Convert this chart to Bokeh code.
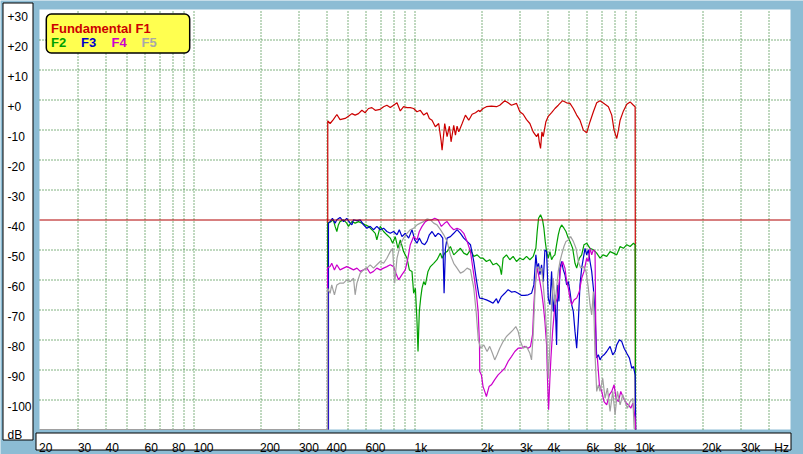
from math import log10, floor
from bokeh.plotting import figure
from bokeh.models import BoxAnnotation, Label
from bokeh.core.properties import value
from bokeh.embed import file_html
from bokeh.resources import INLINE

# ---------------- data (Hz, dB) ----------------
F1 = [(403, -110), (403, -7.1), (413, -8.0), (427, -6.7), (443, -5.0), (458, -6.7), (483, -6.3),
      (500, -5.6), (518, -4.7), (536, -5.2), (555, -4.7), (575, -3.6), (595, -4.4), (616, -3.0),
      (638, -2.7), (661, -3.6), (696, -3.3), (721, -2.4), (746, -1.9), (773, -2.7), (800, -1.9),
      (829, -1.1), (858, -3.8), (888, -2.4), (920, -2.7), (952, -2.7), (986, -3.0), (1021, -4.1),
      (1057, -3.6), (1095, -5.2), (1133, -4.4), (1161, -6.3), (1194, -6.9), (1236, -9.1),
      (1280, -8.0), (1312, -13.6), (1326, -16.9), (1363, -8.0), (1397, -12.4), (1431, -8.9),
      (1456, -14.1), (1497, -8.6), (1524, -11.9), (1550, -8.9), (1578, -10.8), (1634, -8.0),
      (1691, -5.2), (1751, -6.9), (1813, -4.9), (1878, -4.4), (1944, -3.6), (1963, -4.1),
      (2032, -3.0), (2104, -2.4), (2217, -2.2), (2336, -2.4), (2418, -1.9), (2548, -0.4),
      (2638, -1.1), (2732, -1.9), (2879, -1.3), (2981, -4.1), (3086, -4.9), (3196, -6.7),
      (3309, -8.0), (3426, -10.8), (3548, -12.4), (3610, -11.3), (3648, -14.1), (3699, -16.3),
      (3751, -10.8), (3804, -12.4), (3911, -7.4), (4008, -5.6), (4150, -4.4), (4297, -3.0),
      (4449, -1.9), (4655, -0.4), (4854, -1.1), (5026, -1.3), (5204, -3.0), (5389, -5.2),
      (5579, -6.9), (5777, -10.2), (5981, -11.1), (6193, -7.4), (6413, -4.1), (6640, -1.1),
      (6875, -0.4), (7243, -1.6), (7500, -2.4), (7766, -5.2), (7957, -10.2), (8182, -13.0),
      (8326, -10.2), (8472, -6.9), (8772, -3.8), (9083, -1.6), (9405, -0.8), (9738, -1.9),
      (9909, -2.4), (9940, -110)]

F2 = [(403, -110), (403, -41.2), (417, -40.7), (427, -40.1), (435, -42.3), (443, -44.0), (450, -41.8),
      (458, -40.7), (475, -40.1), (491, -41.2), (500, -42.3), (518, -40.7), (536, -41.2), (555, -40.7),
      (575, -41.2), (595, -41.8), (616, -42.3), (638, -43.4), (661, -44.6), (672, -46.8), (696, -42.3),
      (721, -44.0), (746, -45.1), (773, -46.2), (792, -47.9), (814, -45.7), (837, -49.6), (858, -46.8),
      (888, -50.7), (920, -52.9), (943, -56.8), (969, -57.3), (986, -64.6), (1004, -62.9),
      (1021, -74.0), (1032, -84.0), (1046, -70.7), (1061, -66.2), (1076, -62.9), (1095, -60.7),
      (1114, -61.8), (1145, -57.3), (1174, -55.7), (1215, -54.6), (1258, -53.4), (1303, -51.2),
      (1326, -52.9), (1363, -51.2), (1397, -50.7), (1446, -49.0), (1497, -51.8), (1550, -50.7),
      (1605, -49.6), (1662, -51.2), (1721, -51.8), (1782, -50.1), (1845, -52.3), (1911, -51.8),
      (1978, -52.9), (2032, -52.9), (2104, -54.0), (2178, -53.4), (2256, -55.1), (2336, -54.6),
      (2418, -55.7), (2461, -58.4), (2504, -52.9), (2593, -51.8), (2685, -53.4), (2780, -52.3),
      (2879, -54.0), (2981, -52.9), (3086, -53.4), (3196, -52.3), (3309, -53.4), (3426, -52.3),
      (3523, -49.6), (3572, -44.0), (3623, -39.6), (3699, -38.4), (3777, -40.1), (3830, -42.9),
      (3884, -47.3), (3939, -50.7), (4008, -52.9), (4078, -50.7), (4150, -53.4), (4223, -52.3),
      (4297, -51.8), (4372, -48.4), (4449, -45.1), (4527, -42.9), (4607, -41.8), (4721, -42.9),
      (4820, -44.0), (4939, -46.2), (5026, -47.3), (5168, -49.6), (5296, -54.6), (5389, -56.2),
      (5540, -52.9), (5677, -51.8), (5817, -48.4), (5981, -47.9), (6193, -49.6), (6413, -50.1),
      (6640, -51.2), (6875, -52.9), (7094, -51.8), (7370, -52.3), (7632, -50.7), (7902, -51.2),
      (8182, -51.8), (8472, -49.0), (8772, -49.6), (9083, -48.4), (9405, -49.0), (9738, -47.9),
      (9909, -48.4), (9950, -110)]

F3 = [(406, -110), (406, -41.2), (413, -40.7), (423, -39.6), (435, -41.2), (443, -40.1), (458, -39.3),
      (475, -40.7), (491, -39.6), (509, -41.2), (518, -41.8), (527, -40.1), (546, -40.4), (565, -40.1),
      (585, -41.8), (606, -42.9), (627, -42.3), (649, -43.4), (672, -42.3), (696, -43.4), (721, -42.9),
      (746, -44.0), (773, -44.6), (800, -44.0), (829, -45.1), (849, -43.4), (873, -45.7), (904, -44.6),
      (936, -46.2), (969, -43.4), (997, -46.8), (1021, -47.9), (1046, -46.2), (1076, -47.9),
      (1106, -48.4), (1133, -47.3), (1161, -45.1), (1194, -44.0), (1236, -45.7), (1271, -44.6),
      (1303, -45.1), (1335, -46.2), (1354, -64.6), (1373, -49.6), (1397, -46.2), (1446, -45.7),
      (1497, -44.6), (1550, -43.4), (1605, -44.6), (1662, -46.2), (1721, -47.3), (1782, -48.4),
      (1845, -54.0), (1891, -59.6), (1944, -65.1), (1963, -66.2), (2032, -66.4), (2104, -66.8),
      (2178, -67.3), (2256, -67.9), (2336, -66.4), (2377, -67.9), (2461, -65.7), (2548, -64.6),
      (2638, -63.4), (2732, -64.2), (2829, -64.0), (2929, -64.6), (3033, -65.3), (3141, -65.3),
      (3252, -65.1), (3367, -64.6), (3450, -61.8), (3523, -51.8), (3572, -56.2), (3623, -54.6),
      (3674, -58.4), (3738, -55.1), (3804, -60.7), (3871, -50.1), (3939, -50.7), (4008, -66.2),
      (4078, -68.4), (4150, -57.3), (4223, -70.7), (4297, -65.1), (4372, -81.8), (4418, -61.8),
      (4480, -67.3), (4527, -56.2), (4607, -54.0), (4688, -56.8), (4770, -58.4), (4854, -61.8),
      (4939, -60.7), (5026, -64.0), (5114, -68.4), (5204, -70.7), (5296, -77.3), (5389, -82.9),
      (5482, -74.0), (5579, -61.8), (5677, -56.2), (5777, -52.9), (5878, -49.6), (5981, -51.8),
      (6086, -50.1), (6193, -54.0), (6302, -57.3), (6413, -62.9), (6525, -70.7), (6640, -86.2),
      (6756, -85.1), (6875, -86.8), (6996, -85.7), (7168, -85.1), (7370, -84.0), (7632, -82.3),
      (7847, -85.1), (8041, -84.0), (8182, -81.8), (8413, -80.1), (8621, -80.7), (8834, -82.9),
      (9083, -84.6), (9340, -86.2), (9570, -89.6), (9738, -89.0), (9909, -91.8), (9960, -110)]

F4 = [(402, -110), (402, -56.2), (413, -55.7), (420, -54.6), (432, -56.8), (443, -55.1), (458, -56.8),
      (475, -56.2), (491, -55.7), (509, -56.2), (527, -56.8), (546, -56.2), (565, -57.3), (585, -56.8),
      (606, -56.2), (627, -57.9), (649, -57.3), (672, -56.2), (696, -56.8), (721, -56.2), (746, -55.7),
      (773, -55.1), (800, -55.7), (820, -57.9), (843, -60.1), (873, -58.4), (904, -56.8), (929, -52.9),
      (952, -48.4), (986, -45.7), (1021, -46.8), (1046, -44.0), (1076, -42.3), (1114, -40.7),
      (1153, -40.1), (1194, -40.1), (1228, -39.6), (1271, -40.1), (1316, -42.3), (1363, -41.2),
      (1397, -40.7), (1446, -42.3), (1497, -43.4), (1550, -42.9), (1605, -43.4), (1662, -44.6),
      (1721, -47.3), (1782, -50.7), (1845, -58.4), (1891, -64.0), (1931, -70.7), (1958, -81.8),
      (1963, -90.7), (1997, -91.8), (2032, -95.7), (2068, -97.3), (2104, -99.0), (2163, -95.7),
      (2217, -95.1), (2295, -93.4), (2377, -91.8), (2461, -90.7), (2548, -89.6), (2638, -87.3),
      (2732, -85.7), (2829, -84.0), (2929, -82.9), (3033, -82.9), (3141, -82.3), (3252, -82.9),
      (3332, -82.3), (3403, -78.4), (3450, -68.4), (3486, -62.9), (3523, -59.6), (3572, -56.2),
      (3623, -58.4), (3674, -60.7), (3738, -64.0), (3804, -68.4), (3871, -74.0), (3939, -81.8),
      (3980, -94.0), (4022, -103.4), (4078, -92.9), (4121, -86.2), (4193, -77.3), (4297, -68.4),
      (4403, -66.2), (4496, -60.7), (4559, -56.2), (4655, -54.0), (4770, -56.2), (4854, -60.7),
      (4939, -62.9), (5026, -66.2), (5114, -68.4), (5241, -66.8), (5389, -66.2), (5540, -64.0),
      (5677, -59.6), (5817, -57.3), (5981, -52.9), (6086, -54.0), (6193, -49.6), (6302, -51.8),
      (6413, -50.1), (6525, -50.7), (6594, -85.1), (6686, -86.2), (6827, -95.1), (6996, -97.3),
      (7168, -100.7), (7370, -101.8), (7579, -98.4), (7766, -97.3), (7957, -95.1), (8125, -99.6),
      (8326, -100.7), (8531, -97.3), (8772, -99.6), (9020, -101.2), (9243, -101.8), (9471, -102.9),
      (9671, -101.2), (9909, -106.2), (9970, -110)]

F5 = [(20, -110), (402, -110), (402, -62.9), (413, -64.6), (420, -61.8), (432, -65.1), (443, -61.8),
      (458, -61.2), (475, -61.2), (491, -60.1), (509, -60.7), (527, -59.6), (536, -65.1), (546, -61.2),
      (565, -57.9), (585, -56.8), (606, -56.2), (627, -55.1), (649, -56.2), (672, -55.1), (696, -54.0),
      (721, -54.6), (746, -52.9), (773, -50.7), (792, -49.6), (809, -61.2), (829, -52.9), (858, -48.4),
      (888, -46.2), (920, -44.6), (952, -43.4), (986, -42.9), (1021, -41.8), (1057, -41.2),
      (1095, -40.7), (1133, -39.8), (1174, -40.1), (1215, -41.2), (1258, -41.8), (1303, -43.4),
      (1349, -45.1), (1397, -47.3), (1446, -51.8), (1497, -54.6), (1550, -56.2), (1605, -57.9),
      (1662, -57.3), (1721, -56.2), (1782, -56.8), (1845, -62.9), (1891, -70.7), (1931, -79.6),
      (1978, -82.9), (2048, -81.8), (2119, -84.0), (2178, -82.3), (2240, -84.6), (2295, -86.8),
      (2352, -85.1), (2418, -82.9), (2504, -80.7), (2593, -79.0), (2685, -77.9), (2780, -76.8),
      (2859, -75.7), (2929, -77.3), (3001, -80.7), (3086, -82.9), (3196, -82.3), (3309, -84.6),
      (3367, -86.8), (3426, -78.4), (3486, -65.1), (3548, -56.2), (3610, -55.7), (3674, -57.3),
      (3738, -56.2), (3804, -61.8), (3871, -68.4), (3939, -77.3), (4008, -92.9), (4078, -81.8),
      (4150, -68.4), (4223, -59.6), (4297, -68.4), (4372, -62.9), (4449, -57.3), (4527, -54.0),
      (4607, -51.8), (4721, -49.0), (4820, -47.3), (4939, -46.8), (5061, -45.7), (5204, -47.3),
      (5351, -49.6), (5482, -54.0), (5618, -56.2), (5777, -55.7), (5940, -57.3), (6086, -62.9),
      (6193, -68.4), (6302, -71.8), (6413, -64.0), (6525, -85.1), (6640, -97.3), (6756, -95.1),
      (6875, -97.3), (7069, -92.9), (7243, -99.6), (7421, -96.2), (7632, -104.0), (7847, -97.3),
      (8041, -105.1), (8239, -97.3), (8472, -101.8), (8711, -98.4), (8926, -100.7), (9146, -102.9),
      (9405, -100.7), (9671, -99.6), (9806, -109.6), (9900, -110)]

SERIES_NAMES = ["Fundamental F1", "F2", "F3", "F4", "F5"]
REF_DB = -40

Y_TICKS = [30, 20, 10, 0, -10, -20, -30, -40, -50, -60, -70, -80, -90, -100]
Y_TICK_LABELS = ["+30", "+20", "+10", "+0", "-10", "-20", "-30", "-40", "-50", "-60",
                 "-70", "-80", "-90", "-100"]
X_TICKS = [20, 30, 40, 60, 80, 100, 200, 300, 400, 600, 1000, 2000, 3000, 4000, 6000,
           8000, 10000, 20000, 30000]
X_TICK_LABELS = ["20", "30", "40", "60", "80", "100", "200", "300", "400", "600", "1k", "2k",
                 "3k", "4k", "6k", "8k", "10k", "20k", "30k"]
X_GRID = [30, 40, 50, 60, 70, 80, 90, 100, 200, 300, 400, 500, 600, 700, 800, 900,
          1000, 2000, 3000, 4000, 5000, 6000, 7000, 8000, 9000, 10000, 20000, 30000, 40000]
Y_GRID = [20, 10, 0, -10, -20, -30, -50, -60, -70, -80, -90, -100]

# ---------------- layout / style ----------------
X_MIN, X_MAX, Y_MIN, Y_MAX = 20, 50000, -110, 30
W, H = 803, 454
PL, PR, PT, PB = 39, 790, 9, 429          # plot area in picture pixels
DEC = log10(X_MAX / X_MIN)
BG = "#8cbcd4"
GRID_C = "#006400"
FONT = "Liberation Sans"
COLORS = ["#cc0000", "#00a000", "#0000cc", "#cc00cc", "#a0a0a0"]


def xd(px):
    return 10 ** (log10(X_MIN) + (px - PL) / (PR - PL) * DEC)


def yd(py):
    return Y_MAX - (py - PT) / (PB - PT) * (Y_MAX - Y_MIN)


def xsnap(v):  # move a data x onto the nearest pixel centre (crisp 1px lines)
    px = PL + (log10(v) - log10(X_MIN)) / DEC * (PR - PL)
    return xd(floor(px) + 0.5)


def ysnap(v):
    py = PT + (Y_MAX - v) / (Y_MAX - Y_MIN) * (PB - PT)
    return yd(floor(py) + 0.5)


p = figure(width=W, height=H, x_axis_type="log",
           x_range=(xd(0), xd(W)), y_range=(yd(H), yd(0)),
           x_axis_location=None, y_axis_location=None,
           toolbar_location=None, output_backend="svg", min_border=0)
p.grid.visible = False
p.background_fill_color = BG
p.border_fill_color = BG
p.outline_line_color = None

# plot area
p.quad(left=[X_MIN], right=[X_MAX], bottom=[Y_MIN], top=[Y_MAX],
       fill_color="white", line_color=None)

# dotted grid
gx = [xsnap(v) for v in X_GRID]
gy = [ysnap(v) for v in Y_GRID]
p.segment(x0=gx, y0=[Y_MIN] * len(gx), x1=gx, y1=[Y_MAX] * len(gx),
          line_color=GRID_C, line_dash="1 2", line_width=1)
p.segment(x0=[X_MIN] * len(gy), y0=gy, x1=[X_MAX] * len(gy), y1=gy,
          line_color=GRID_C, line_dash="1 2", line_width=1)

# curves
for pts, col in zip([F1, F2, F3, F4, F5], COLORS):
    p.line([a for a, b in pts], [b for a, b in pts], line_color=col, line_width=1.2)

# reference level
ry = ysnap(REF_DB)
p.line([X_MIN, X_MAX], [ry, ry], line_color="#b00000", line_width=1)

# label boxes
p.quad(left=[xd(2.5)], right=[xd(32.5)], top=[yd(2.5)], bottom=[yd(439.5)],
       fill_color="white", line_color="black", line_width=1)
p.quad(left=[xd(35.5)], right=[xd(790.5)], top=[yd(432.5)], bottom=[yd(449.5)],
       fill_color="white", line_color="black", line_width=1)

# y tick labels
p.text(x=[xd(7)] * len(Y_TICKS), y=Y_TICKS, text=Y_TICK_LABELS,
       text_font=value(FONT), text_font_size="12px", text_color="black",
       text_align="left", text_baseline="alphabetic", y_offset=6.5)
p.text(x=[xd(7)], y=[yd(434.5)], text=["dB"], text_font=value(FONT),
       text_font_size="12px", text_color="black", text_align="left",
       text_baseline="alphabetic")

# x tick labels
p.text(x=X_TICKS, y=[yd(447)] * len(X_TICKS), text=X_TICK_LABELS,
       text_font=value(FONT), text_font_size="12px", text_color="black",
       text_align="left", text_baseline="alphabetic", x_offset=-0.5)
p.text(x=[xd(788.5)], y=[yd(447)], text=["Hz"], text_font=value(FONT),
       text_font_size="12px", text_color="black", text_align="right",
       text_baseline="alphabetic")

# legend
box = BoxAnnotation(left=xd(45.8), right=xd(189.2), top=yd(13.5), bottom=yd(52.5),
                    fill_color="#ffff50", fill_alpha=1, line_color="black", line_alpha=1,
                    line_width=1.5, border_radius=5)
p.add_layout(box)
legend_pos = [(50.5, 27.5), (50.5, 41.5), (80.5, 41.5), (111, 41.5), (141, 41.5)]
legend_cols = ["#cc0000", "#00a000", "#0000cc", "#cc00cc", "#a8a8a8"]
for name, (lx, ly), col in zip(SERIES_NAMES, legend_pos, legend_cols):
    p.add_layout(Label(x=xd(lx), y=yd(ly), text=name, text_font=FONT,
                       text_font_size="13px", text_font_style="bold", text_color=col,
                       text_align="left", text_baseline="alphabetic"))

open("out.html", "w").write(file_html(p, INLINE, title="Distortion"))
